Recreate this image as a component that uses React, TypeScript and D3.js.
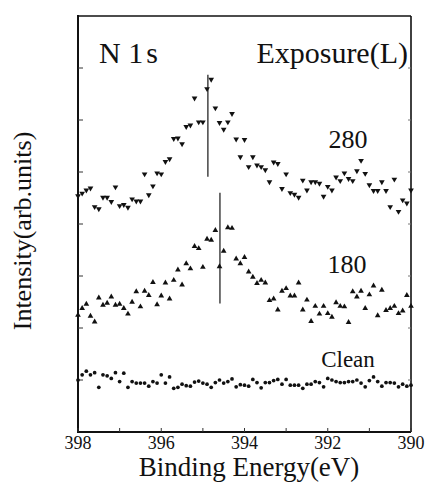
import React from "react";
import * as d3 from "d3";

const energies = [
  398.0, 397.9, 397.8, 397.7, 397.6, 397.5, 397.4, 397.3, 397.2, 397.1,
  397.0, 396.9, 396.8, 396.7, 396.6, 396.5, 396.4, 396.3, 396.2, 396.1,
  396.0, 395.9, 395.8, 395.7, 395.6, 395.5, 395.4, 395.3, 395.2, 395.1,
  395.0, 394.9, 394.8, 394.7, 394.6, 394.5, 394.4, 394.3, 394.2, 394.1,
  394.0, 393.9, 393.8, 393.7, 393.6, 393.5, 393.4, 393.3, 393.2, 393.1,
  393.0, 392.9, 392.8, 392.7, 392.6, 392.5, 392.4, 392.3, 392.2, 392.1,
  392.0, 391.9, 391.8, 391.7, 391.6, 391.5, 391.4, 391.3, 391.2, 391.1,
  391.0, 390.9, 390.8, 390.7, 390.6, 390.5, 390.4, 390.3, 390.2, 390.1,
  390.0,
];

const exposure280 = [
  4.54, 4.59, 4.65, 4.69, 4.33, 4.29, 4.51, 4.51, 4.43, 4.71,
  4.35, 4.37, 4.32, 4.48, 4.44, 4.44, 4.96, 4.56, 4.73, 4.98,
  4.96, 5.2, 5.25, 5.64, 5.65, 5.54, 5.87, 5.9, 6.42, 5.96,
  5.96, 6.6, 6.78, 6.23, 5.95, 5.82, 5.96, 6.12, 5.63, 5.29,
  5.62, 5.1, 5.29, 5.13, 5.1, 5.04, 4.81, 5.19, 5.16, 4.68,
  4.96, 4.6, 4.57, 4.51, 4.84, 4.65, 4.81, 4.81, 4.78, 4.53,
  4.72, 4.65, 4.9, 4.83, 4.98, 4.87, 4.83, 5.02, 5.22, 4.97,
  4.75, 4.64, 4.64, 4.81, 4.64, 4.33, 4.86, 4.24, 4.46, 4.4,
  4.65,
];

const exposure180 = [
  2.25, 2.38, 2.46, 2.23, 2.12, 2.58, 2.44, 2.48, 2.6, 2.44,
  2.46, 2.38, 2.27, 2.5, 2.7, 2.41, 2.71, 2.63, 2.88, 2.45,
  2.62, 2.87, 2.56, 2.92, 3.12, 2.83, 3.24, 3.14, 3.57, 3.53,
  3.17, 3.71, 3.69, 3.88, 3.18, 3.48, 3.93, 3.92, 3.33, 3.24,
  3.36, 3.08, 2.98, 2.86, 2.92, 2.87, 2.53, 2.56, 2.35, 2.71,
  2.76, 2.62, 2.62, 2.87, 2.35, 2.54, 2.13, 2.42, 2.27, 2.42,
  2.28, 2.21, 2.49, 2.42, 2.41, 2.11, 2.7, 2.6, 2.71, 2.38,
  2.64, 2.81, 2.24, 2.73, 2.34, 2.38, 2.42, 2.28, 2.33, 2.63,
  2.42,
];

const clean = [
  1.0, 1.1, 1.17, 1.1, 1.14, 0.86, 1.1, 1.08, 1.03, 1.14,
  0.97, 1.13, 0.86, 0.97, 0.94, 0.94, 0.94, 0.88, 0.97, 0.94,
  1.1, 0.94, 1.06, 0.84, 0.86, 0.92, 0.89, 0.88, 0.96, 0.98,
  0.94, 0.92, 0.86, 0.95, 1.0, 0.94, 0.97, 1.02, 0.87, 0.91,
  0.9, 0.88, 1.01, 0.95, 0.85, 0.95, 0.95, 0.99, 1.01, 0.92,
  1.01, 0.9, 0.9, 0.9, 0.84, 0.92, 0.92, 0.97, 0.95, 0.87,
  1.03, 1.0, 0.97, 0.95, 0.95, 0.97, 0.97, 1.0, 0.94, 0.87,
  0.99, 1.06, 0.97, 0.88, 0.95, 0.95, 0.94, 0.87, 0.92, 0.88,
  0.9,
];

// peak marker lines: [energy, y from, y to]
const peakLines = [
  { energy: 394.88, y0: 4.91, y1: 6.87 },
  { energy: 394.59, y0: 2.47, y1: 4.6 },
];

const xTicks = [398, 397, 396, 395, 394, 393, 392, 391, 390];
const xTickLabels = [398, 396, 394, 392, 390];
const yTicks = [1, 2, 3, 4, 5, 6, 7];

const W = 426;
const H = 487;
const M = { left: 78, right: 411, top: 16, bottom: 432 };

export default function App() {
  const x = d3.scaleLinear().domain([398, 390]).range([M.left, M.right]);
  const y = d3.scaleLinear().domain([0, 8]).range([M.bottom, M.top]);

  const tri = d3.symbol().type(d3.symbolTriangle).size(14)() as string;
  const dot = d3.symbol().type(d3.symbolCircle).size(11)() as string;
  const serif = "'Liberation Serif', 'Times New Roman', serif";

  return (
    <svg
      width={W}
      height={H}
      style={{ position: "absolute", left: 0, top: 0, background: "#fff" }}
      fontFamily={serif}
    >
      <rect x={0} y={0} width={W} height={H} fill="#fff" />
      {/* frame */}
      <line x1={M.left} x2={M.left} y1={M.top - 1} y2={M.bottom + 1} stroke="#111" strokeWidth={2} />
      <line x1={M.left} x2={M.right} y1={M.bottom} y2={M.bottom} stroke="#111" strokeWidth={2} />
      <line x1={M.left} x2={M.right} y1={M.top} y2={M.top} stroke="#111" strokeWidth={1.6} />
      <line x1={M.right} x2={M.right} y1={M.top} y2={M.bottom} stroke="#111" strokeWidth={1.6} />

      {/* ticks */}
      {xTicks.map((t) => (
        <line key={"xt" + t} x1={x(t)} x2={x(t)} y1={M.bottom} y2={M.bottom - 4} stroke="#333" strokeWidth={1} />
      ))}
      {yTicks.map((t) => (
        <g key={"yt" + t}>
          <line x1={M.left} x2={M.left + 5} y1={y(t)} y2={y(t)} stroke="#333" strokeWidth={1} />
          <line x1={M.right} x2={M.right - 3} y1={y(t)} y2={y(t)} stroke="#777" strokeWidth={1} />
        </g>
      ))}
      {xTickLabels.map((t) => (
        <text key={"xl" + t} x={x(t)} y={449} textAnchor="middle" fontSize={18} fill="#111">
          {t}
        </text>
      ))}

      {/* peak lines */}
      {peakLines.map((p, i) => (
        <line key={"pl" + i} x1={x(p.energy)} x2={x(p.energy)} y1={y(p.y0)} y2={y(p.y1)} stroke="#444" strokeWidth={1.5} />
      ))}

      {/* series */}
      {exposure280.map((v, i) => (
        <path key={"a" + i} d={tri} transform={`translate(${x(energies[i])},${y(v)}) rotate(180)`} fill="#111" />
      ))}
      {exposure180.map((v, i) => (
        <path key={"b" + i} d={tri} transform={`translate(${x(energies[i])},${y(v)})`} fill="#111" />
      ))}
      {clean.map((v, i) => (
        <path key={"c" + i} d={dot} transform={`translate(${x(energies[i])},${y(v)})`} fill="#111" />
      ))}

      {/* annotations */}
      <text x={99} y={63} fontSize={30} fill="#111">N 1<tspan dx={3}>s</tspan></text>
      <text x={408} y={63} fontSize={30} textAnchor="end" fill="#111">Exposure(L)</text>
      <text x={348} y={148} fontSize={26} textAnchor="middle" fill="#111">280</text>
      <text x={347} y={273} fontSize={26} textAnchor="middle" fill="#111">180</text>
      <text x={348} y={367} fontSize={23} textAnchor="middle" fill="#111">Clean</text>

      {/* axis titles */}
      <text x={249} y={476} fontSize={27} textAnchor="middle" fill="#111">Binding Energy(eV)</text>
      <text transform="translate(31,231) rotate(-90)" fontSize={26} textAnchor="middle" fill="#111">
        Intensity(arb.units)
      </text>
    </svg>
  );
}
